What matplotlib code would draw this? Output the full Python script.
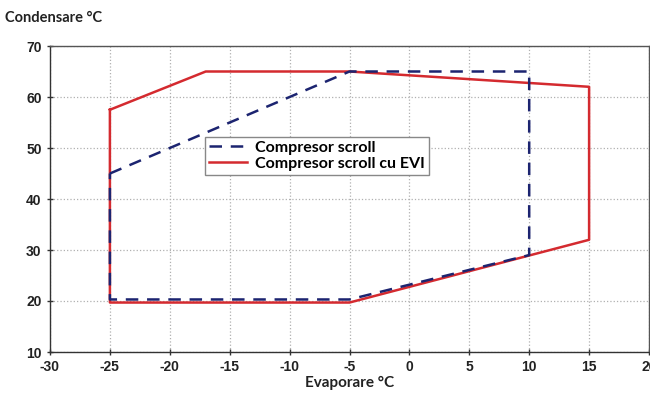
import numpy as np
import matplotlib
matplotlib.use('Agg')
import matplotlib.pyplot as plt

plt.rcParams['axes.unicode_minus'] = False

# Compresor scroll envelope (evaporare, condensare)
scroll_x = [-25, -5, 10, 10, -5, -25, -25]
scroll_y = [45, 65, 65, 29, 20.3, 20.3, 45]

# Compresor scroll cu EVI envelope
evi_x = [-25, -17, -5, 15, 15, -5, -25, -25]
evi_y = [57.5, 65, 65, 62, 32, 19.7, 19.7, 57.5]

xticks = [-30, -25, -20, -15, -10, -5, 0, 5, 10, 15, 20]
yticks = [10, 20, 30, 40, 50, 60, 70]

fig = plt.figure(figsize=(6.5, 4.03), dpi=100)
ax = fig.add_axes([50/650, 1 - 352/403, 599/650, 306/403])

ax.plot(evi_x, evi_y, color='#d42a2f', lw=1.8, label='Compresor scroll cu EVI', zorder=3)
ax.plot(scroll_x, scroll_y, color='#1c2470', lw=1.8, ls=(0, (5, 3.5)), label='Compresor scroll', zorder=4)

ax.set_xlim(-30, 20)
ax.set_ylim(10, 70)
ax.set_xticks(xticks)
ax.set_yticks(yticks)
ax.grid(True, color='#b0b0b0', ls=':', lw=0.9)
ax.tick_params(direction='inout', length=5, width=1, color='#333333', labelsize=10)
for lab in ax.get_xticklabels() + ax.get_yticklabels():
    lab.set_fontfamily('Liberation Sans')
    lab.set_fontweight('bold')
    lab.set_color('#222222')
for s in ax.spines.values():
    s.set_color('#555555')
    s.set_linewidth(1)
ax.spines['left'].set_color('#333333')
ax.spines['bottom'].set_color('#333333')

handles, labels = ax.get_legend_handles_labels()
leg = ax.legend(handles[::-1], labels[::-1], loc='upper left', bbox_to_anchor=(0.259, 0.703),
                borderaxespad=0, fancybox=False, framealpha=1, edgecolor='#888888',
                handlelength=2.4, borderpad=0.25, labelspacing=0.1, handletextpad=0.5,
                prop={'family': 'Lato', 'weight': 'bold', 'size': 11.5})
leg.get_frame().set_linewidth(1)

fig.text(5/650, 1 - 18/403, 'Condensare °C', fontsize=10.5, fontweight='bold',
         family='Lato', va='center', ha='left', color='#222222')
ax.set_xlabel('Evaporare °C', fontsize=11, fontweight='bold', family='Lato',
              color='#222222', labelpad=1)

fig.savefig('out.png', dpi=100)
